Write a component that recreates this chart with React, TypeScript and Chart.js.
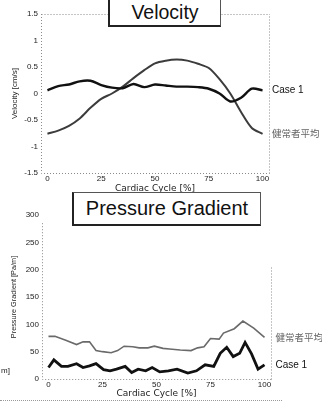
import React, { useEffect, useRef } from "react";
import { Chart, registerables } from "chart.js";

Chart.register(...registerables);

// ---------- data ----------
const cycleTicks = [0, 25, 50, 75, 100];

const velCycle = [0, 5, 10, 15, 20, 25, 30, 35, 40, 45, 50, 55, 60, 65, 70, 75, 80, 85, 90, 95, 100];
const velCase1 = [0.06, 0.14, 0.17, 0.23, 0.24, 0.16, 0.11, 0.1, 0.18, 0.12, 0.17, 0.15, 0.13, 0.13, 0.12, 0.09, 0.0, -0.15, -0.08, 0.09, 0.06];
const velMean = [-0.76, -0.7, -0.61, -0.47, -0.27, -0.1, 0.0, 0.13, 0.29, 0.44, 0.57, 0.62, 0.64, 0.62, 0.56, 0.48, 0.27, 0.0, -0.35, -0.65, -0.76];
const velTicks = [-1.5, -1, -0.5, 0, 0.5, 1, 1.5];

const pgCaseCycle = [0, 2.5, 6, 9, 13, 16, 19, 22, 25.5, 28.5, 31.5, 35.5, 38.5, 41.5, 45, 48, 51.5, 55.5, 59.5, 64.5, 68.5, 72.5, 76.5, 79.5, 82.5, 85.5, 88.5, 91, 94, 97, 100];
const pgCase1 = [21, 35, 23, 23, 28, 21, 24, 28, 17, 15, 18, 23, 12, 18, 15, 21, 13, 15, 18, 11, 15, 26, 23, 47, 58, 41, 47, 67, 46, 18, 26];
const pgMeanCycle = [0, 3, 8, 13, 16, 19, 22, 25, 29, 32, 35, 39, 42, 46, 49, 53, 56, 61, 66, 69, 72, 75, 79, 81, 86, 90, 95, 100];
const pgMean = [78, 78, 71, 63, 68, 68, 52, 50, 48, 52, 60, 59, 57, 57, 60, 56, 55, 53, 52, 57, 59, 74, 73, 84, 92, 106, 93, 76];
const pgTicks = [0, 50, 100, 150, 200, 250, 300];

const LABEL_CASE = "Case 1";
const LABEL_MEAN = "健常者平均";

// ---------- plugins ----------
const framePlugin = {
  id: "frame",
  beforeDatasetsDraw(chart: any, _args: any, opts: any) {
    const { ctx, chartArea } = chart;
    const { left, right, top, bottom } = chartArea;
    const y = chart.scales.y;
    const leftTop = opts.leftFrom != null ? y.getPixelForValue(opts.leftFrom) : top;
    const rightTop = opts.rightFrom != null ? y.getPixelForValue(opts.rightFrom) : top;
    ctx.save();
    ctx.strokeStyle = "#8a8a8a";
    ctx.lineWidth = 1;
    ctx.setLineDash([1, 2]);
    ctx.beginPath();
    ctx.moveTo(left + 0.5, leftTop);
    ctx.lineTo(left + 0.5, bottom + 0.5);
    ctx.lineTo(right + 0.5, bottom + 0.5);
    ctx.moveTo(right + 0.5, bottom + 0.5);
    ctx.lineTo(right + 0.5, rightTop);
    if (opts.top) {
      ctx.moveTo(left + 0.5, top + 0.5);
      ctx.lineTo(right + 0.5, top + 0.5);
    }
    ctx.stroke();
    ctx.restore();
  },
};

const endLabelPlugin = {
  id: "endLabels",
  afterDatasetsDraw(chart: any, _args: any, opts: any) {
    const { ctx, chartArea } = chart;
    chart.data.datasets.forEach((ds: any, i: number) => {
      const meta = chart.getDatasetMeta(i);
      const last = meta.data[meta.data.length - 1];
      if (!last) return;
      ctx.save();
      ctx.font = ds.endFont;
      ctx.fillStyle = ds.endColor;
      ctx.textBaseline = "middle";
      ctx.textAlign = "left";
      ctx.fillText(ds.label, chartArea.right + opts.offset, last.y);
      ctx.restore();
    });
  },
};

function makeConfig(p: any) {
  return {
    type: "line",
    data: {
      datasets: p.datasets,
    },
    plugins: [framePlugin, endLabelPlugin],
    options: {
      responsive: false,
      animation: false,
      events: [],
      layout: { padding: { top: p.padTop, right: p.padRight, left: 0, bottom: 0 } },
      plugins: {
        legend: { display: false },
        tooltip: { enabled: false },
        title: { display: false },
        frame: { top: p.frameTop, leftFrom: p.leftFrom, rightFrom: p.rightFrom },
        endLabels: { offset: p.labelOffset },
      },
      scales: {
        x: {
          type: "linear",
          min: -3,
          max: 103,
          afterBuildTicks: (s: any) => {
            s.ticks = cycleTicks.map((v) => ({ value: v }));
          },
          afterFit: (s: any) => {
            s.height = p.xHeight;
          },
          grid: { display: false, drawTicks: false },
          border: { display: false },
          ticks: {
            padding: p.xTickPad,
            color: "#222",
            font: { family: "'Liberation Sans', Arial, sans-serif", size: 8 },
            callback: (v: any) => String(v),
            maxRotation: 0,
          },
          title: {
            display: true,
            text: "Cardiac Cycle [%]",
            color: "#222",
            font: { family: "'DejaVu Sans', sans-serif", size: 9 },
            padding: { top: 0, bottom: p.xTitlePad },
          },
        },
        y: {
          type: "linear",
          min: p.yMin,
          max: p.yMax,
          afterBuildTicks: (s: any) => {
            s.ticks = p.yTicks.map((v: number) => ({ value: v }));
          },
          afterFit: (s: any) => {
            s.width = p.yWidth;
          },
          grid: { display: false, drawTicks: false },
          border: { display: false },
          ticks: {
            padding: 3,
            color: "#222",
            font: { family: "'Liberation Sans', Arial, sans-serif", size: 8 },
            callback: (v: any) => String(v),
          },
          title: {
            display: true,
            text: p.yTitle,
            color: "#222",
            font: { family: "'Liberation Sans', Arial, sans-serif", size: p.yTitleSize },
            padding: { top: 10, bottom: 0 },
          },
        },
      },
    },
  };
}

function LineChart(props: { config: any; width: number; height: number }) {
  const ref = useRef<HTMLCanvasElement | null>(null);
  useEffect(() => {
    if (!ref.current) return;
    const chart = new Chart(ref.current, props.config);
    return () => chart.destroy();
  }, []);
  return (
    <canvas
      ref={ref}
      width={props.width}
      height={props.height}
      style={{ display: "block", width: props.width, height: props.height }}
    />
  );
}

const velConfig = makeConfig({
  datasets: [
    {
      label: LABEL_CASE,
      data: velCycle.map((x, i) => ({ x, y: velCase1[i] })),
      borderColor: "#111",
      borderWidth: 2.4,
      pointRadius: 0,
      tension: 0.3,
      endColor: "#111",
      endFont: "10px 'Liberation Sans', Arial, sans-serif",
    },
    {
      label: LABEL_MEAN,
      data: velCycle.map((x, i) => ({ x, y: velMean[i] })),
      borderColor: "#3c3c3c",
      borderWidth: 2,
      pointRadius: 0,
      tension: 0.3,
      endColor: "#666",
      endFont: "9.5px 'Noto Sans CJK JP', sans-serif",
    },
  ],
  padTop: 14,
  padRight: 53,
  xHeight: 27,
  yWidth: 41,
  xTickPad: 1,
  xTitlePad: 6,
  yMin: -1.5,
  yMax: 1.5,
  yTicks: velTicks,
  yTitle: "Velocity [cm/s]",
  yTitleSize: 8,
  frameTop: true,
  leftFrom: null,
  rightFrom: null,
  labelOffset: 3,
});

const pgConfig = makeConfig({
  datasets: [
    {
      label: LABEL_MEAN,
      data: pgMeanCycle.map((x, i) => ({ x, y: pgMean[i] })),
      borderColor: "#6a6a6a",
      borderWidth: 1.6,
      pointRadius: 0,
      tension: 0,
      endColor: "#666",
      endFont: "9.5px 'Noto Sans CJK JP', sans-serif",
    },
    {
      label: LABEL_CASE,
      data: pgCaseCycle.map((x, i) => ({ x, y: pgCase1[i] })),
      borderColor: "#111",
      borderWidth: 2.8,
      pointRadius: 0,
      tension: 0,
      endColor: "#111",
      endFont: "10px 'Liberation Sans', Arial, sans-serif",
    },
  ],
  padTop: 15,
  padRight: 51,
  xHeight: 23,
  yWidth: 42,
  xTickPad: 1,
  xTitlePad: 3,
  yMin: 0,
  yMax: 300,
  yTicks: pgTicks,
  yTitle: "Pressure Gradient [Pa/m]",
  yTitleSize: 7.3,
  frameTop: false,
  leftFrom: 285,
  rightFrom: 205,
  labelOffset: 4.5,
});

const boxStyle: React.CSSProperties = {
  position: "absolute",
  background: "#fff",
  borderTop: "1px solid #555",
  borderRight: "1px solid #555",
  borderBottom: "2px solid #222",
  borderLeft: "2px solid #222",
  boxSizing: "border-box",
  display: "flex",
  alignItems: "center",
  justifyContent: "center",
  fontFamily: "'Liberation Sans', Arial, sans-serif",
  color: "#111",
  whiteSpace: "nowrap",
};

export default function App() {
  return (
    <div
      style={{
        position: "absolute",
        left: 0,
        top: 0,
        width: 322,
        height: 402,
        background: "#fff",
        overflow: "hidden",
      }}
    >
      <div style={{ position: "absolute", left: 0, top: 0 }}>
        <LineChart config={velConfig} width={322} height={200} />
      </div>
      <div style={{ position: "absolute", left: 0, top: 200 }}>
        <LineChart config={pgConfig} width={322} height={202} />
      </div>
      <div style={{ ...boxStyle, left: 108, top: -2, width: 113, height: 29, fontSize: 19.5 }}>
        Velocity
      </div>
      <div style={{ ...boxStyle, left: 72, top: 192, width: 189, height: 34, fontSize: 20 }}>
        Pressure Gradient
      </div>
      <div
        style={{
          position: "absolute",
          left: 1,
          top: 366,
          fontSize: 8,
          fontFamily: "'Liberation Sans', Arial, sans-serif",
          color: "#222",
        }}
      >
        m]
      </div>
      <div
        style={{
          position: "absolute",
          left: 0,
          top: 400,
          width: 282,
          height: 0,
          borderTop: "1px dotted #999",
        }}
      />
    </div>
  );
}
